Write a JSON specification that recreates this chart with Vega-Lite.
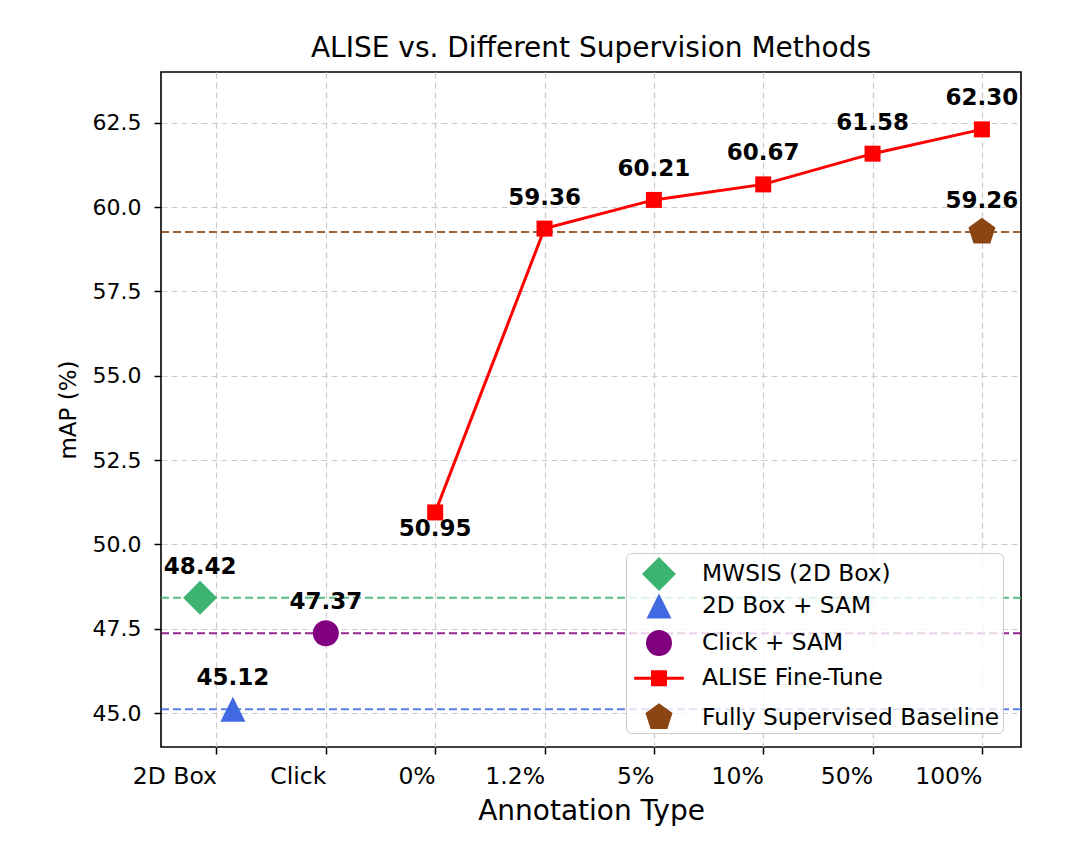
{
  "$schema": "https://vega.github.io/schema/vega-lite/v6.json",
  "width": 860,
  "height": 675,
  "autosize": {"type": "none"},
  "padding": {"left": 161, "top": 72, "right": 58, "bottom": 110},
  "background": "white",
  "title": {
    "text": "ALISE vs. Different Supervision Methods",
    "fontSize": 28,
    "font": "DejaVu Sans",
    "fontWeight": "normal",
    "color": "black",
    "anchor": "middle",
    "frame": "group",
    "baseline": "alphabetic",
    "offset": -13
  },
  "data": {
    "values": [
      {"x": -0.15, "y": 48.42, "series": "MWSIS (2D Box)"},
      {"x": 0.15, "y": 45.12, "series": "2D Box + SAM"},
      {"x": 1, "y": 47.37, "series": "Click + SAM"},
      {"x": 2, "y": 50.95, "series": "ALISE Fine-Tune"},
      {"x": 3, "y": 59.36, "series": "ALISE Fine-Tune"},
      {"x": 4, "y": 60.21, "series": "ALISE Fine-Tune"},
      {"x": 5, "y": 60.67, "series": "ALISE Fine-Tune"},
      {"x": 6, "y": 61.58, "series": "ALISE Fine-Tune"},
      {"x": 7, "y": 62.30, "series": "ALISE Fine-Tune"},
      {"x": 7, "y": 59.26, "series": "Fully Supervised Baseline"}
    ]
  },
  "config": {
    "font": "DejaVu Sans",
    "view": {"stroke": "black", "strokeWidth": 1.6},
    "axis": {
      "domain": false,
      "labelFont": "DejaVu Sans",
      "labelColor": "black",
      "titleFont": "DejaVu Sans",
      "titleFontWeight": "normal",
      "titleColor": "black",
      "tickColor": "black",
      "tickSize": 7,
      "tickWidth": 1.5,
      "gridColor": "#cccccc",
      "gridDash": [6, 4],
      "gridWidth": 1.2
    },
    "axisX": {"labelFontSize": 23.5, "labelPadding": 10, "titlePadding": 10, "titleFontSize": 28, "labelAngle": 0, "labelAlign": "right"},
    "axisY": {"labelFontSize": 22, "labelPadding": 13, "titlePadding": 12, "titleFontSize": 23}
  },
  "layer": [
    {
      "transform": [{"filter": "datum.series !== 'ALISE Fine-Tune'"}],
      "mark": {"type": "rule", "strokeDash": [8, 4], "strokeWidth": 2, "opacity": 0.85},
      "encoding": {
        "y": {"field": "y", "type": "quantitative", "title": "mAP (%)",
              "scale": {"domain": [44, 64], "nice": false, "zero": false}},
        "stroke": {
          "field": "series", "type": "nominal", "legend": null,
          "scale": {
            "domain": ["MWSIS (2D Box)", "2D Box + SAM", "Click + SAM", "Fully Supervised Baseline"],
            "range": ["#3CB371", "#4169E1", "#800080", "#8B4513"]
          }
        }
      }
    },
    {
      "transform": [{"filter": "datum.series === 'ALISE Fine-Tune'"}],
      "mark": {"type": "line", "color": "#FF0000", "strokeWidth": 3},
      "encoding": {
        "x": {"field": "x", "type": "quantitative", "title": "Annotation Type"},
        "y": {"field": "y", "type": "quantitative", "title": "mAP (%)"}
      }
    },
    {
      "transform": [{"filter": "datum.series === 'ALISE Fine-Tune'"}],
      "mark": {"type": "point", "filled": true, "opacity": 1, "strokeWidth": 0, "shape": "square", "size": 256, "color": "#FF0000"},
      "encoding": {
        "x": {"field": "x", "type": "quantitative", "title": "Annotation Type"},
        "y": {"field": "y", "type": "quantitative", "title": "mAP (%)"}
      }
    },
    {
      "transform": [{"filter": "datum.series !== 'ALISE Fine-Tune'"}],
      "mark": {"type": "point", "filled": true, "opacity": 1, "strokeWidth": 0},
      "encoding": {
        "x": {
          "field": "x", "type": "quantitative", "title": "Annotation Type",
          "scale": {"domain": [-0.5075, 7.3575], "nice": false, "zero": false},
          "axis": {
            "values": [0, 1, 2, 3, 4, 5, 6, 7],
            "labelExpr": "['2D Box','Click','0%','1.2%','5%','10%','50%','100%'][datum.value]",
            "grid": true
          }
        },
        "y": {
          "field": "y", "type": "quantitative", "title": "mAP (%)",
          "scale": {"domain": [44, 64], "nice": false, "zero": false},
          "axis": {"values": [45, 47.5, 50, 52.5, 55, 57.5, 60, 62.5], "format": ".1f", "grid": true}
        },
        "color": {
          "field": "series", "type": "nominal",
          "scale": {
            "domain": ["MWSIS (2D Box)", "2D Box + SAM", "Click + SAM", "ALISE Fine-Tune", "Fully Supervised Baseline"],
            "range": ["#3CB371", "#4169E1", "#800080", "#FF0000", "#8B4513"]
          },
          "legend": {
            "orient": "none",
            "legendX": 465,
            "legendY": 481,
            "title": null,
            "padding": 4,
            "cornerRadius": 5,
            "fillColor": "rgba(255,255,255,0.8)",
            "strokeColor": "#cccccc",
            "labelFontSize": 23.3,
            "labelFont": "DejaVu Sans",
            "labelColor": "black",
            "labelOffset": 26,
            "symbolOffset": 12,
            "rowPadding": 1.5,
            "gridAlign": "all",
            "labelLimit": 500,
            "symbolStrokeWidth": 0,
            "symbolOpacity": 1
          }
        },
        "shape": {
          "field": "series", "type": "nominal",
          "scale": {
            "domain": ["MWSIS (2D Box)", "2D Box + SAM", "Click + SAM", "ALISE Fine-Tune", "Fully Supervised Baseline"],
            "range": ["diamond", "M0,-1L-1,1L1,1Z", "circle", "M-3.1,-0.19H3.1V0.19H-3.1Z M-1,-1H1V1H-1Z", "M0,-1L0.951,-0.309L0.588,0.809L-0.588,0.809L-0.951,-0.309Z"]
          }
        },
        "size": {
          "field": "series", "type": "nominal",
          "scale": {
            "type": "ordinal",
            "domain": ["MWSIS (2D Box)", "2D Box + SAM", "Click + SAM", "ALISE Fine-Tune", "Fully Supervised Baseline"],
            "range": [1150, 625, 676, 256, 806]
          }
        }
      }
    },
    {
      "transform": [{"filter": "!(datum.series === 'ALISE Fine-Tune' && datum.x === 2)"}],
      "mark": {"type": "text", "fontWeight": "bold", "fontSize": 23, "baseline": "alphabetic", "align": "center", "dy": -24, "color": "black"},
      "encoding": {
        "x": {"field": "x", "type": "quantitative", "title": "Annotation Type"},
        "y": {"field": "y", "type": "quantitative", "title": "mAP (%)"},
        "text": {"field": "y", "type": "quantitative", "format": ".2f"}
      }
    },
    {
      "transform": [{"filter": "datum.series === 'ALISE Fine-Tune' && datum.x === 2"}],
      "mark": {"type": "text", "fontWeight": "bold", "fontSize": 23, "baseline": "alphabetic", "align": "center", "dy": 24, "color": "black"},
      "encoding": {
        "x": {"field": "x", "type": "quantitative", "title": "Annotation Type"},
        "y": {"field": "y", "type": "quantitative", "title": "mAP (%)"},
        "text": {"field": "y", "type": "quantitative", "format": ".2f"}
      }
    }
  ]
}
